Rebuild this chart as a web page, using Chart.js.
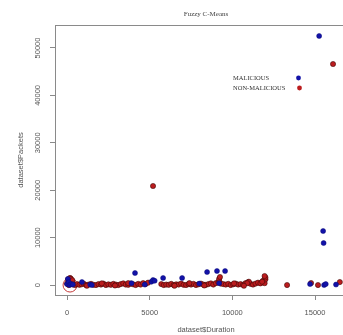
<!DOCTYPE html>
<html>
<head>
<meta charset="utf-8">
<script src="https://cdn.jsdelivr.net/npm/chart.js@4"></script>
<style>
  html, body { margin: 0; padding: 0; background: #fff; overflow: hidden; }
  #wrap { width: 343px; height: 335px; overflow: hidden; }
</style>
</head>
<body>
<div id="wrap"><canvas id="fcm" width="370" height="335"></canvas></div>
<script>
// values
const xTicks = [0, 5000, 10000, 15000];
const yTicks = [0, 10000, 20000, 30000, 40000, 50000];

const malDuration = [0, 50, 100, 150, 250, 350, 900, 1400, 1500, 3900, 4110, 4700, 5100, 5200, 5300, 5810, 6960, 8000, 8470, 9070, 9200, 9560, 14700, 15250, 15490, 15520, 15550, 15650, 16270];
const malPackets = [200, 1300, 600, 0, 200, 100, 630, 100, 0, 400, 2530, 100, 700, 1050, 900, 1480, 1480, 300, 2740, 2950, 400, 2950, 200, 52530, 11390, 8860, 0, 200, 100];

const nonDuration = [
  0, 60, 120, 180, 240, 280, 320, 200, 100,
  380, 500, 620, 750, 880, 1000, 1150, 1300, 1450, 1600, 1750, 1900, 2050, 2200, 2350, 2500, 2650, 2800, 2950, 3100, 3250, 3400, 3550, 3700, 3850, 4000, 4150, 4300, 4450, 4600, 4750, 4900,
  5700, 5850, 6000, 6150, 6300, 6450, 6600, 6750, 6900, 7050, 7200, 7350, 7500, 7650, 7800, 7950, 8100, 8250, 8400, 8550, 8700, 8850, 9000, 9150, 9300, 9450, 9600, 9750, 9900, 10050, 10200, 10350, 10500, 10650, 10800, 10950, 11100, 11250, 11400, 11550, 11700, 11850, 11950,
  9200, 9200, 9250, 12000, 12000, 11950, 11800, 11000, 10900,
  1200, 2100, 2900, 3700, 6500, 7400, 8300, 10100, 10700,
  5200, 16090, 13310, 14760, 15180, 16500
];
const nonPackets = [
  300, 1200, 800, 1500, 1300, 600, 1000, 200, 0,
  100, 0, 200, 50, 150, 300, 0, 100, 250, 50, 0, 200, 100, 300, 0, 150, 50, 250, 100, 0, 200, 350, 100, 50, 300, 150, 0, 250, 100, 400, 200, 500,
  200, 0, 100, 50, 250, 0, 150, 100, 300, 50, 0, 200, 100, 250, 0, 150, 300, 100, 50, 200, 350, 100, 400, 600, 300, 200, 100, 250, 0, 150, 300, 100, 200, 50, 400, 600, 250, 100, 300, 500, 350, 900, 400,
  900, 1300, 1700, 1200, 1600, 1900, 700, 700, 400,
  -150, 350, -100, 400, -150, 400, -100, 350, -150,
  20890, 46620, 0, 420, 0, 630
];

const centerDuration = [180];
const centerPackets = [0];

const BLUE = '#1212a8';
const RED = '#bb1c1e';

function toPoints(xs, ys) {
  return xs.map((x, i) => ({ x: x, y: ys[i] }));
}

// title, axis names, legend and the box (R base graphics look)
const decor = {
  id: 'decor',
  afterDraw(chart) {
    const ctx = chart.ctx;
    const a = chart.chartArea;
    ctx.save();
    ctx.strokeStyle = '#8a8a8a';
    ctx.lineWidth = 1;
    ctx.strokeRect(a.left + 0.5, a.top + 0.5, a.right - a.left, a.bottom - a.top);

    ctx.fillStyle = '#444';
    ctx.textAlign = 'center';
    ctx.textBaseline = 'middle';
    ctx.font = '7px "Liberation Serif"';
    ctx.fillText('Fuzzy C-Means', 206, 14);

    ctx.font = '7.5px "Liberation Sans"';
    ctx.fillStyle = '#555';
    ctx.fillText('dataset$Duration', 206, 330);
    ctx.save();
    ctx.translate(21, 160);
    ctx.rotate(-Math.PI / 2);
    ctx.fillText('dataset$Packets', 0, 0);
    ctx.restore();

    ctx.font = '6.5px "Liberation Serif"';
    ctx.fillStyle = '#333';
    ctx.textAlign = 'left';
    ctx.fillText('MALICIOUS', 233, 78.5);
    ctx.fillText('NON-MALICIOUS', 233, 88.5);
    ctx.fillStyle = BLUE;
    ctx.beginPath(); ctx.arc(298.5, 78, 2.4, 0, Math.PI * 2); ctx.fill();
    ctx.fillStyle = RED;
    ctx.beginPath(); ctx.arc(299.5, 88, 2.4, 0, Math.PI * 2); ctx.fill();
    ctx.restore();
  }
};

const ctx = document.getElementById('fcm').getContext('2d');
const fcmChart = new Chart(ctx, {
  type: 'scatter',
  data: {
    datasets: [{
      label: 'MALICIOUS',
      data: toPoints(malDuration, malPackets),
      backgroundColor: BLUE,
      borderColor: '#0a0a78',
      borderWidth: 0.5,
      pointRadius: 2.5
    }, {
      label: 'NON-MALICIOUS',
      data: toPoints(nonDuration, nonPackets),
      backgroundColor: RED,
      borderColor: 'rgba(60,5,5,0.8)',
      borderWidth: 0.7,
      pointRadius: 2.6
    }, {
      label: 'center',
      data: toPoints(centerDuration, centerPackets),
      backgroundColor: 'rgba(0,0,0,0)',
      borderColor: '#c43a3a',
      borderWidth: 1,
      pointRadius: 7
    }]
  },
  options: {
    responsive: false,
    animation: false,
    layout: { padding: { left: 0, top: 25, right: 13, bottom: 0 } },
    plugins: {
      legend: { display: false },
      tooltip: { enabled: false }
    },
    scales: {
      x: {
        type: 'linear',
        min: -730,
        max: 17540,
        afterBuildTicks: s => { s.ticks = xTicks.map(v => ({ value: v })); },
        afterFit: s => { s.height = 40; },
        border: { display: false },
        grid: { drawOnChartArea: false, drawTicks: true, tickLength: 5, color: '#8a8a8a' },
        ticks: {
          color: '#555',
          padding: 8,
          maxRotation: 0,
          callback: v => String(v),
          font: { family: '"Liberation Sans"', size: 7.5 }
        }
      },
      y: {
        type: 'linear',
        min: -2100,
        max: 54850,
        afterBuildTicks: s => { s.ticks = yTicks.map(v => ({ value: v })); },
        afterFit: s => { s.width = 55; },
        border: { display: false },
        grid: { drawOnChartArea: false, drawTicks: true, tickLength: 5, color: '#8a8a8a' },
        ticks: {
          color: '#555',
          padding: 2,
          minRotation: 90,
          maxRotation: 90,
          crossAlign: 'center',
          callback: v => String(v),
          font: { family: '"Liberation Sans"', size: 7.5 }
        }
      }
    }
  },
  plugins: [decor]
});
</script>
</body>
</html>
